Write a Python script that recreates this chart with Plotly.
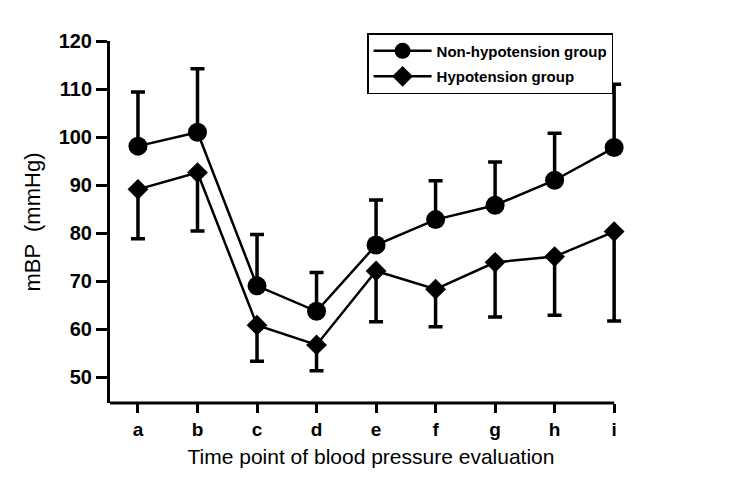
import plotly.graph_objects as go

categories = ["a", "b", "c", "d", "e", "f", "g", "h", "i"]
non_hypo_mean = [98.1, 101.0, 69.0, 63.7, 77.5, 82.8, 85.8, 91.0, 97.8]
non_hypo_upper = [109.4, 114.2, 79.7, 71.8, 86.9, 90.9, 94.8, 100.8, 111.0]
hypo_mean = [89.1, 92.6, 60.8, 56.7, 72.1, 68.3, 73.9, 75.1, 80.3]
hypo_lower = [78.8, 80.4, 53.3, 51.3, 61.5, 60.5, 62.5, 62.9, 61.7]
y_ticks = [50, 60, 70, 80, 90, 100, 110, 120]

x = list(range(len(categories)))
up_err = [u - m for u, m in zip(non_hypo_upper, non_hypo_mean)]
down_err = [m - l for m, l in zip(hypo_mean, hypo_lower)]

x_lo, x_hi = -0.47, 8.0
x_view_hi = 8.3

fig = go.Figure()
fig.add_trace(go.Scatter(
    x=x, y=non_hypo_mean, mode="lines+markers", name="Non-hypotension group",
    legendgroup="g1", cliponaxis=False,
    line=dict(color="black", width=2.5),
    marker=dict(symbol="circle", size=19, color="black"),
    error_y=dict(type="data", symmetric=False, array=up_err, arrayminus=[0] * 9,
                 color="black", thickness=3.5, width=7),
))
fig.add_trace(go.Scatter(
    x=x, y=hypo_mean, mode="lines+markers", name="Hypotension group",
    legendgroup="g2", cliponaxis=False,
    line=dict(color="black", width=2.5),
    marker=dict(symbol="diamond", size=16, color="black"),
    error_y=dict(type="data", symmetric=False, array=[0] * 9, arrayminus=down_err,
                 color="black", thickness=3.5, width=7),
))

# x-axis baseline ending at the last category tick
fig.add_shape(type="line", xref="x", yref="paper", x0=x_lo, x1=x_hi, y0=0, y1=0,
              line=dict(color="black", width=3), layer="above")

plot_w = 504 * (x_view_hi - x_lo) / (x_hi - x_lo)

fig.update_layout(
    width=750, height=493,
    margin=dict(l=110, r=750 - 110 - plot_w, t=41, b=90),
    plot_bgcolor="white", paper_bgcolor="white",
    font=dict(family="Liberation Sans", color="black"),
    legend=dict(x=(367 - 110) / plot_w, y=1.022, xanchor="left", yanchor="top",
                bordercolor="black", borderwidth=1.5, bgcolor="white",
                font=dict(size=15, weight="bold"), tracegroupgap=3,
                itemwidth=58),
    showlegend=True,
)
fig.update_xaxes(
    range=[x_lo, x_view_hi], tickvals=x, ticktext=categories,
    showline=False,
    ticks="outside", ticklen=9, tickwidth=3, tickcolor="black",
    showgrid=False, zeroline=False,
    tickfont=dict(size=19, weight="bold"),
    title=dict(text="Time point of blood pressure evaluation", font=dict(size=21), standoff=10),
)
fig.update_yaxes(
    range=[44.6, 120], tickvals=y_ticks,
    showline=True, linecolor="black", linewidth=3,
    ticks="outside", ticklen=11, tickwidth=3, tickcolor="black",
    showgrid=False, zeroline=False,
    tickfont=dict(size=20, weight="bold"),
    title=dict(text="mBP  (mmHg)", font=dict(size=22), standoff=12),
)

fig.write_html("out.html")
